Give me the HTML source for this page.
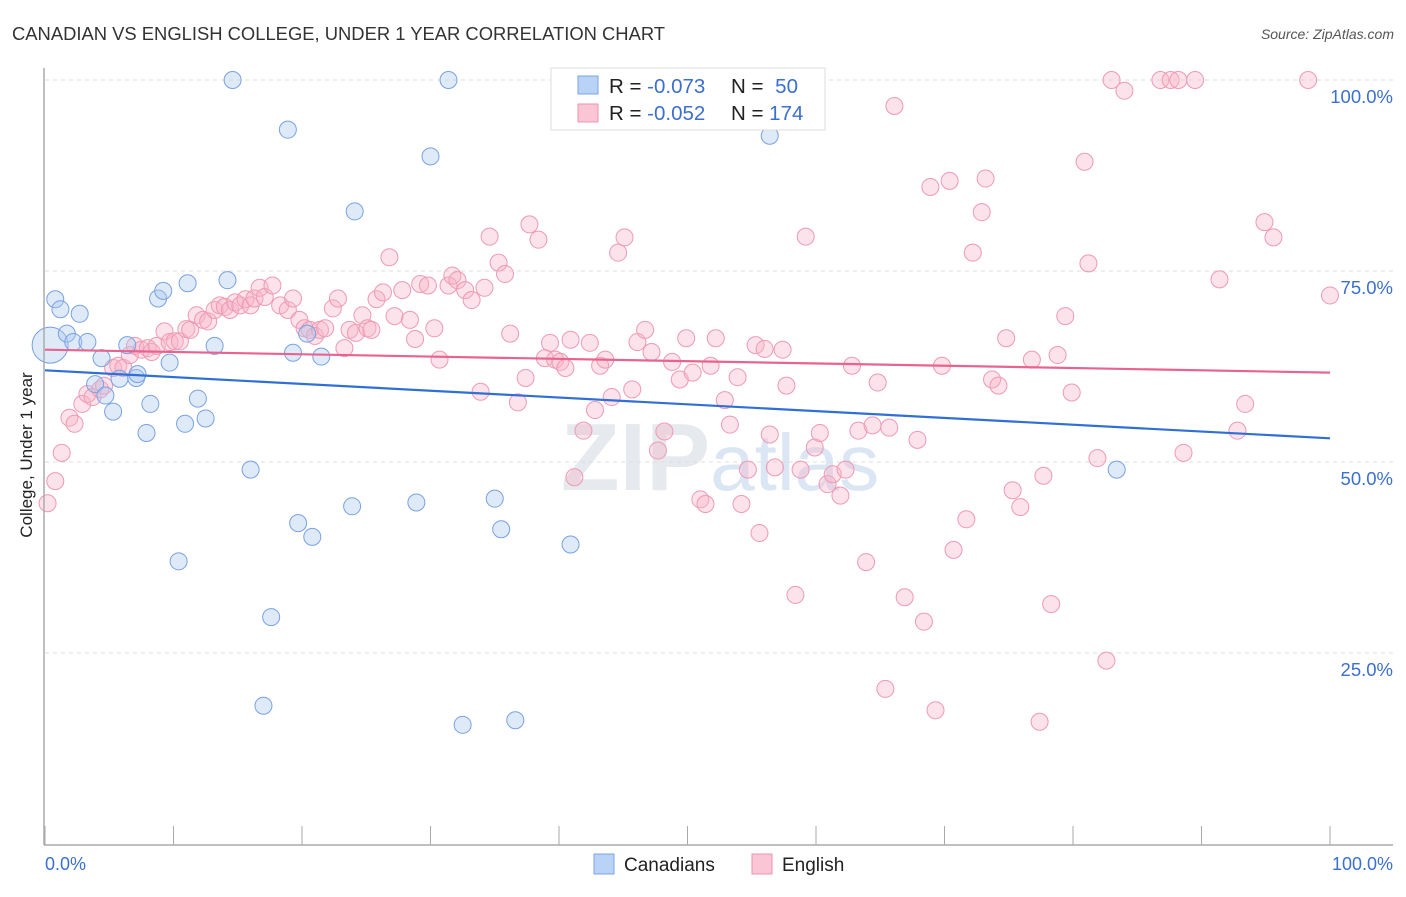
<!DOCTYPE html>
<html><head><meta charset="utf-8"><style>
body{margin:0;background:#fff;font-family:"Liberation Sans",sans-serif;}
svg text{font-family:"Liberation Sans",sans-serif;}
</style></head><body>
<svg id="chart" width="1406" height="892">
<text x="12" y="40" font-size="18.4" fill="#333">CANADIAN VS ENGLISH COLLEGE, UNDER 1 YEAR CORRELATION CHART</text>
<text x="1394" y="39" font-size="14" fill="#555" text-anchor="end" font-style="italic">Source: ZipAtlas.com</text>
<text x="720" y="490" font-size="96" fill="#e6e9ee" text-anchor="middle" font-family="Liberation Serif" font-weight="bold">ZIP<tspan fill="#dbe6f4" font-family="Liberation Sans" font-weight="normal" font-size="80">atlas</tspan></text>
<g id="grid"></g>
<g id="points"></g>
<g id="trends"></g>
<line x1="44" y1="68" x2="44" y2="845" stroke="#aaa" stroke-width="1.5"/>
<line x1="44" y1="845" x2="1393" y2="845" stroke="#aaa" stroke-width="1.5"/>
<g id="xticks"></g>
<text x="32" y="455" font-size="17" fill="#222" text-anchor="middle" transform="rotate(-90 32 455)">College, Under 1 year</text>
<text x="45" y="870" font-size="18" fill="#3b6fd0">0.0%</text>
<text x="1393" y="870" font-size="18" fill="#3b6fd0" text-anchor="end">100.0%</text>
<g>
<rect x="551" y="68" width="274" height="62" fill="#fff" stroke="#ddd"/>
<rect x="578" y="76" width="20" height="18" fill="#b8d3f5" stroke="#7ba4e0"/>
<rect x="578" y="104" width="20" height="18" fill="#fac6d5" stroke="#ee93ae"/>
<text x="609" y="93" font-size="20.5" fill="#222">R = <tspan fill="#3b6fd0">-0.073</tspan></text>
<text x="731" y="93" font-size="20.5" fill="#222">N = <tspan fill="#3b6fd0" dx="6">50</tspan></text>
<text x="609" y="120" font-size="20.5" fill="#222">R = <tspan fill="#3b6fd0">-0.052</tspan></text>
<text x="731" y="120" font-size="20.5" fill="#222">N = <tspan fill="#3b6fd0">174</tspan></text>
</g>
<g>
<rect x="594" y="854" width="20" height="20" fill="#b8d3f5" stroke="#7ba4e0"/>
<text x="624" y="871" font-size="19" fill="#222">Canadians</text>
<text x="782" y="871" font-size="19" fill="#222">English</text>
<rect x="752" y="854" width="20" height="20" fill="#fac6d5" stroke="#ee93ae"/>
</g>
</svg>
<script>
const yTicks=[100,75,50,25];
const yTickLabels=["100.0%","75.0%","50.0%","25.0%"];
const xTickVals=[0,10,20,30,40,50,60,70,80,90,100];
const blueX=[0.4,0.8,1.2,1.7,2.7,2.2,3.3,4.4,3.9,4.7,5.3,5.8,6.4,7.1,7.2,8.2,7.9,8.8,9.2,9.7,10.4,10.9,11.1,11.9,12.5,13.2,14.2,14.6,16.0,17.6,17.0,18.9,19.3,19.7,20.4,20.8,21.5,23.9,24.1,28.9,30.0,31.4,32.5,35.0,35.5,36.6,40.9,56.4,83.4,47.6];
const blueY=[65.3,71.3,70.0,66.8,69.4,65.7,65.7,63.6,60.2,58.7,56.6,60.9,65.3,61.0,61.5,57.6,53.8,71.4,72.4,63.0,37.0,55.0,73.4,58.3,55.7,65.2,73.8,100,49.0,29.7,18.1,93.5,64.3,42.0,66.8,40.2,63.8,44.2,82.8,44.7,90.0,100,15.6,45.2,41.2,16.2,39.2,92.7,49.0,100];
const pinkX=[0.2,0.8,1.3,1.9,2.3,2.9,3.3,3.7,4.3,4.6,5.3,5.7,6.1,6.6,7.0,7.5,8.0,8.3,8.7,9.3,9.7,10.1,10.5,11.0,11.3,11.8,12.3,12.7,13.2,13.6,14.0,14.4,14.8,15.2,15.6,16.0,16.3,16.7,17.1,17.7,18.3,18.9,19.3,19.8,20.2,20.6,21.0,21.4,21.8,22.4,22.8,23.3,23.7,24.2,24.7,25.1,25.4,25.8,26.3,26.8,27.2,27.8,28.4,28.8,29.2,29.8,30.3,30.7,31.4,31.7,32.1,32.7,33.2,33.9,34.2,34.6,35.3,35.8,36.2,36.8,37.4,37.7,38.4,38.9,39.3,39.7,40.1,40.5,40.9,41.2,41.9,42.4,42.8,43.2,43.6,44.1,44.6,45.1,45.7,46.1,46.7,47.2,47.7,48.2,48.8,49.4,49.9,50.4,51.0,51.4,51.8,52.2,52.9,53.3,53.9,54.2,54.7,55.3,55.6,56.0,56.4,56.8,57.4,57.7,58.4,58.8,59.2,59.9,60.3,60.9,61.3,61.9,62.3,62.8,63.3,63.9,64.4,64.8,65.4,65.7,66.1,66.9,67.9,68.4,68.9,69.3,69.8,70.4,70.7,71.7,72.2,72.9,73.2,73.7,74.2,74.8,75.3,75.9,76.8,77.4,77.7,78.3,78.8,79.4,79.9,80.9,81.2,81.9,82.6,83.0,84.0,86.8,87.6,88.2,89.5,88.6,91.4,92.8,93.4,94.9,95.6,98.3,100];
const pinkY=[44.6,47.5,51.2,55.8,55.0,57.6,58.9,58.5,59.5,60.0,62.3,62.6,62.3,64.0,65.2,64.7,64.9,64.4,65.2,67.1,65.7,65.8,65.8,67.4,67.3,69.2,68.6,68.4,69.9,70.5,70.3,69.9,70.9,70.5,71.3,70.5,71.4,72.8,71.6,73.1,70.5,69.9,71.4,68.6,67.5,67.3,66.5,67.3,67.5,70.1,71.4,64.9,67.3,66.9,69.2,67.5,67.3,71.3,72.2,76.8,69.1,72.5,68.6,66.1,73.3,73.1,67.5,63.4,73.1,74.4,73.8,72.5,71.2,59.2,72.8,79.5,76.1,74.6,66.8,57.8,61.0,81.1,79.1,63.6,65.6,63.4,63.1,62.3,66.0,48.0,54.1,65.6,56.8,62.6,63.4,58.5,77.4,79.4,59.5,65.7,67.3,64.4,51.5,54.0,63.1,60.8,66.2,61.7,45.1,44.5,62.6,66.2,58.1,54.9,61.1,44.5,49.0,65.3,40.7,64.8,53.6,49.3,64.7,60.0,32.6,49.0,79.5,51.9,53.8,47.1,48.4,45.6,49.0,62.6,54.1,36.9,54.8,60.4,20.3,54.5,96.6,32.3,52.9,29.1,86.0,17.5,62.6,86.8,38.5,42.5,77.4,82.7,87.1,60.8,60.0,66.2,46.3,44.1,63.4,16.0,48.2,31.4,64.0,69.1,59.1,89.3,76.0,50.5,24.0,100,98.6,100,100,100,100,51.2,73.9,54.1,57.6,81.4,79.4,100,71.8];
const blueTrend=[62.0,53.1];
const pinkTrend=[64.7,61.7];
const NS="http://www.w3.org/2000/svg";
const X0=45,X1=1330,Y0=844,Y1=80;
function sx(v){return X0+(X1-X0)*v/100;}
function sy(v){return Y0-(Y0-Y1)*v/100;}
function mk(tag,attrs,parent){const e=document.createElementNS(NS,tag);for(const k in attrs)e.setAttribute(k,attrs[k]);parent.appendChild(e);return e;}
const grid=document.getElementById('grid');
yTicks.forEach((t,i)=>{
  const l=mk('line',{x1:45,x2:1393,y1:sy(t),y2:sy(t),stroke:'#ddd','stroke-dasharray':'4,4'},grid);
  
  
  const tx=mk('text',{x:1393,y:sy(t)+23,'font-size':18.5,fill:'#3b6fd0','text-anchor':'end'},grid);
  tx.textContent=yTickLabels[i];
  
  
});
const xt=document.getElementById('xticks');
xTickVals.forEach(v=>{
  const l=mk('line',{x1:sx(v),x2:sx(v),y1:826,y2:845,stroke:'#aaa'},xt);
  
  
});
const pts=document.getElementById('points');
pinkX.forEach((x,i)=>{
  const c=mk('circle',{cx:sx(x),cy:sy(pinkY[i]),r:8.5,fill:'rgba(248,180,200,0.38)',stroke:'#ee9ab3','stroke-width':1},pts);
  
  
});
blueX.forEach((x,i)=>{
  const c=mk('circle',{cx:sx(x),cy:sy(blueY[i]),r:i===0?18:8.5,fill:'rgba(170,200,240,0.38)',stroke:'#78a2e2','stroke-width':1},pts);
  
  
});
const tr=document.getElementById('trends');
const bl=mk('line',{x1:sx(0),y1:sy(blueTrend[0]),x2:sx(100),y2:sy(blueTrend[1]),stroke:'#2f6fd6','stroke-width':2.2},tr);


const pl=mk('line',{x1:sx(0),y1:sy(pinkTrend[0]),x2:sx(100),y2:sy(pinkTrend[1]),stroke:'#e8648f','stroke-width':2.2},tr);


</script>
</body></html>
